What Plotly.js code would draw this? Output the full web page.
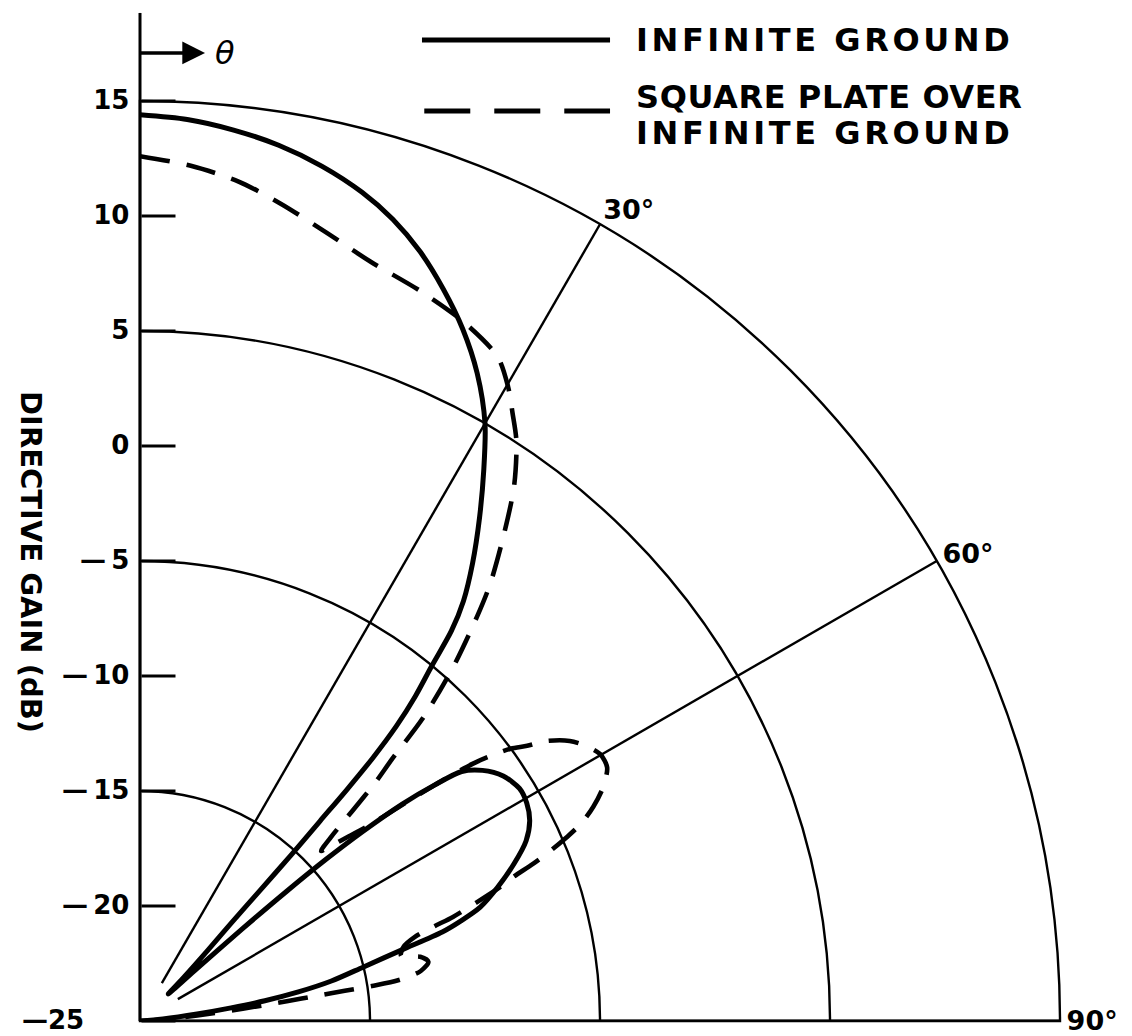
<!DOCTYPE html>
<html>
<head>
<meta charset="utf-8">
<script src="https://cdn.plot.ly/plotly-3.0.1.min.js"></script>
<style>
  html, body { margin: 0; padding: 0; background: #ffffff; }
  #chart { width: 1132px; height: 1036px; }
</style>
</head>
<body>
<div id="chart"></div>
<script>
// Elevation angle from zenith (deg) and directive gain (dB) for each configuration
const thetaInfinite = [0, 3, 6, 9, 12, 15, 17.5, 20, 22.5, 25, 27.5, 30, 32, 34, 36, 37.6, 38.6, 39.4,
  40.3, 41.0, 41.5, 41.8, 42.0, 42.3, 42.6, 43.0, 43.8, 45.0, 46.3, 47.3, 48.0, 48.5, 49.0, 49.6,
  50.4, 51.3, 52.2, 53.8, 56.0, 58.5, 60.6, 62.8, 65.0, 67.2, 69.5, 71.5, 72.7, 73.6, 74.8, 76.4,
  78.2, 79.6, 80.8, 81.8, 83.0, 85.0, 87.5, 90];
const gainInfinite = [14.4, 14.25, 13.95, 13.55, 13.0, 12.3, 11.55, 10.6, 9.45, 8.2, 6.75, 5.0, 3.2, 1.4, -0.4, -1.95, -3.3, -5.0,
  -6.5, -8.0, -9.7, -11.5, -13.3, -15.2, -17.3, -19.2, -20.8, -22.3, -23.3, -21.8, -19.0, -16.5, -14.3, -12.3,
  -10.2, -8.6, -7.3, -6.55, -5.95, -5.65, -5.7, -5.95, -6.48, -7.36, -8.4, -9.4, -10.4, -11.3, -13.2, -15.0,
  -16.5, -18.0, -19.5, -21.0, -22.5, -24.0, -24.8, -25];

const thetaPlate = [0, 3.4, 6.7, 9.8, 13.4, 16.9, 21, 24.8, 28.3, 30.1, 31.5, 33, 35, 36.9, 38.7, 39.8, 41.5,
  43.0, 43.9, 44.6, 45.3, 46.1, 46.8, 47.5, 48.5, 49.5, 50.4, 51.3, 52.3, 52.9, 53.7, 54.6, 55.5, 56.9,
  58.4, 59.9, 61.5, 63.2, 64.7, 65.9, 66.7, 67.5, 68.2, 68.9, 69.6, 70.6, 71.6, 72.2, 73.0, 74.3, 76.0,
  77.1, 78.4, 79.9, 81.0, 81.4, 81.6, 81.9, 82.3, 83.2, 84.5, 86.5, 90];
const gainPlate = [12.6, 12.25, 11.75, 11.05, 10.2, 9.5, 9.0, 8.5, 7.8, 6.9, 6.0, 5.05, 3.35, 1.3, -0.65, -2.1, -4.45,
  -6.9, -9.2, -10.4, -12.0, -13.5, -14.2, -13.7, -12.9, -11.9, -10.4, -8.6, -6.7, -5.9, -5.0, -4.35, -3.5, -2.7,
  -2.2, -1.87, -1.89, -2.44, -3.2, -4.0, -4.8, -5.7, -6.6, -7.6, -8.3, -9.5, -10.66, -11.6, -12.5, -13.1, -13.3,
  -12.5, -12.2, -12.6, -13.6, -14.8, -16.0, -17.2, -18.5, -20.5, -22.5, -24.0, -25];

// Axis ticks and grid
const gainTicks = [-25, -20, -15, -10, -5, 0, 5, 10, 15];
const gainTickText = ['\u201425\u00a0\u00a0\u00a0\u00a0\u00a0', '\u2014\u200920', '\u2014\u200915', '\u2014\u200910', '\u2014\u20095', '0', '5', '10', '15'];
const gainGrid = [-15, -5, 5];
const gainRange = [-25, 15];
const angleTicks = [30, 60, 90];
const angleTickText = ['30\u00b0', '60\u00b0', '90\u00b0'];
const spokeAngles = [30, 60];
const spokeGain = [-23.1, 15];

const seriesNames = ['INFINITE GROUND', 'SQUARE PLATE OVER', 'INFINITE GROUND'];
const keySpacing = [3.6, 0.6, 3.6];
const axisTitle = 'DIRECTIVE GAIN (dB)';

const FONT = 'DejaVu Sans, Verdana, sans-serif';
const INK = '#000000';

const traces = [];

// radial spokes at 30 and 60 degrees
spokeAngles.forEach(a => {
  traces.push({
    type: 'scatterpolar', subplot: 'polar', mode: 'lines',
    theta: [a, a], r: spokeGain,
    line: { color: INK, width: 2.4 }, hoverinfo: 'skip', showlegend: false
  });
});

traces.push({
  type: 'scatterpolar', subplot: 'polar', mode: 'lines',
  name: seriesNames[0], theta: thetaInfinite, r: gainInfinite,
  line: { color: INK, width: 5, shape: 'spline', smoothing: 0.8 },
  showlegend: false
});
traces.push({
  type: 'scatterpolar', subplot: 'polar', mode: 'lines',
  name: seriesNames[1] + ' ' + seriesNames[2], theta: thetaPlate, r: gainPlate,
  line: { color: INK, width: 4.6, dash: '30px,17px', shape: 'spline', smoothing: 0.8 },
  showlegend: false
});

// horizon line (90 degrees) on the overlay subplot
traces.push({
  type: 'scatterpolar', subplot: 'polar2', mode: 'lines',
  theta: [90, 90], r: gainRange,
  line: { color: INK, width: 3 }, hoverinfo: 'skip', showlegend: false
});

const commonAngular = { rotation: 90, direction: 'clockwise' };

function keyText(i) {
  return '<span style="letter-spacing:' + keySpacing[i] + 'px">' + seriesNames[i] + '</span>';
}

const layout = {
  width: 1132, height: 1036,
  margin: { l: 140, r: 72, t: 101, b: 15 },
  paper_bgcolor: '#ffffff',
  showlegend: false,
  font: { family: FONT, color: INK, size: 26, weight: 700 },
  polar: {
    domain: { x: [0, 1], y: [0, 1] },
    sector: [0, 90],
    bgcolor: '#ffffff',
    radialaxis: {
      range: gainRange, angle: 90, tickvals: gainGrid,
      showticklabels: false, ticks: '', showline: false,
      showgrid: true, gridcolor: INK, gridwidth: 2.4
    },
    angularaxis: Object.assign({}, commonAngular, {
      tickvals: angleTicks, ticktext: angleTickText, ticks: '',
      showgrid: false, showline: true, linecolor: INK, linewidth: 2.4,
      tickfont: { family: FONT, size: 27, color: INK, weight: 700 }
    })
  },
  polar2: {
    domain: { x: [0, 1], y: [0, 1] },
    sector: [0, 90],
    bgcolor: 'rgba(0,0,0,0)',
    radialaxis: {
      range: gainRange, angle: 90, side: 'counterclockwise',
      tickvals: gainTicks, ticktext: gainTickText, tickangle: 90,
      ticks: 'inside', ticklen: 34, tickwidth: 3, tickcolor: INK,
      showline: true, linecolor: INK, linewidth: 3, showgrid: false,
      tickfont: { family: FONT, size: 26, color: INK, weight: 700 }
    },
    angularaxis: Object.assign({}, commonAngular, {
      showline: false, showgrid: false, showticklabels: false, ticks: ''
    })
  },
  shapes: [
    // zenith axis carried above the chart
    { type: 'line', xref: 'paper', yref: 'paper', x0: 0, x1: 0, y0: 1, y1: 1.0957,
      line: { color: INK, width: 3 } },
    // key samples
    { type: 'line', xref: 'paper', yref: 'paper', x0: 0.3065, x1: 0.5109, y0: 1.0663, y1: 1.0663,
      line: { color: INK, width: 5 } },
    { type: 'line', xref: 'paper', yref: 'paper', x0: 0.309, x1: 0.5109, y0: 0.9891, y1: 0.9891,
      line: { color: INK, width: 5, dash: '46px,24px' } }
  ],
  annotations: [
    { xref: 'paper', yref: 'paper', x: 0.0707, y: 1.0522, ax: -66, ay: 0, text: '',
      showarrow: true, arrowhead: 2, arrowsize: 1.3, arrowwidth: 3.5, arrowcolor: INK },
    { xref: 'paper', yref: 'paper', x: 0.079, y: 1.0522, xanchor: 'left', yanchor: 'middle',
      text: '\u03b8', showarrow: false,
      font: { family: FONT, size: 32, color: INK, style: 'italic', weight: 400 } },
    { xref: 'paper', yref: 'paper', x: 0.537, y: 1.0663, xanchor: 'left', yanchor: 'middle',
      text: keyText(0), showarrow: false, font: { family: FONT, size: 32, color: INK, weight: 700 } },
    { xref: 'paper', yref: 'paper', x: 0.537, y: 1.0043, xanchor: 'left', yanchor: 'middle',
      text: keyText(1), showarrow: false, font: { family: FONT, size: 32, color: INK, weight: 700 } },
    { xref: 'paper', yref: 'paper', x: 0.537, y: 0.9652, xanchor: 'left', yanchor: 'middle',
      text: keyText(2), showarrow: false, font: { family: FONT, size: 32, color: INK, weight: 700 } },
    { xref: 'paper', yref: 'paper', x: -0.1185, y: 0.4989, xanchor: 'center', yanchor: 'middle',
      text: axisTitle, textangle: 90, showarrow: false,
      font: { family: FONT, size: 29, color: INK, weight: 700 } }
  ]
};

Plotly.newPlot('chart', traces, layout, { staticPlot: true, displayModeBar: false });
</script>
</body>
</html>
